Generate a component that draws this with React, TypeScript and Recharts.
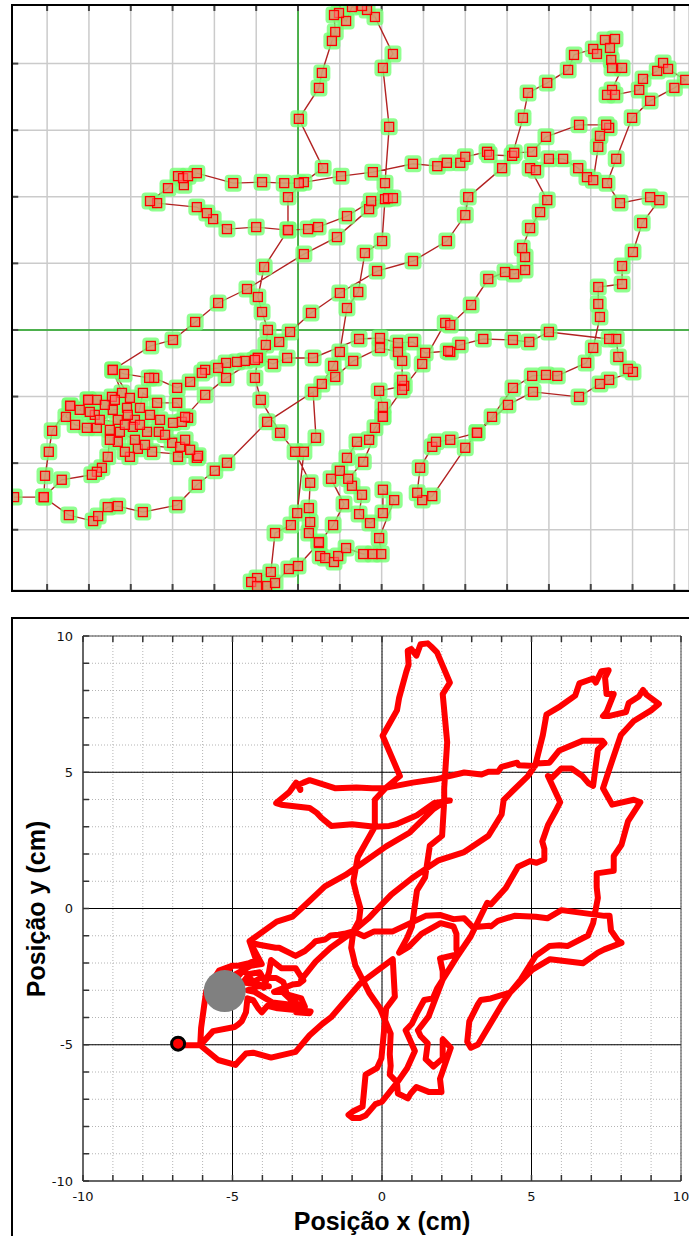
import React from 'react'
import { ComposedChart, Line, Scatter, XAxis, YAxis, CartesianGrid, ReferenceLine } from 'recharts'

type Pt = [number, number]

// trajectory pieces, in cm, in the order they were walked
const startLoop: Pt[] = [
  [-6.79, -5.02], [-6.08, -5.02], [-5.48, -5.56], [-4.9, -5.74], [-4.78, -5.59], [-4.55, -5.32], [-4.31, -5.29],
  [-3.71, -5.47], [-2.89, -5.26], [-2.42, -4.65], [-1.99, -4.23], [-1.7, -3.99], [-0.74, -2.76], [0.36, -1.86],
]
const lowerLeft: Pt[] = [
  [0.43, -3.24], [0.14, -3.66], [-0.02, -5.5], [-0.17, -5.86], [-0.55, -6.1], [-0.65, -7.27], [-0.98, -7.45],
  [-1.12, -7.57], [-0.98, -7.69], [-0.74, -7.69], [-0.55, -7.6], [-0.22, -7.18], [0.0, -7.09], [0.5, -6.4],
  [0.84, -5.86], [1.1, -5.23], [0.79, -4.47], [1.0, -4.23], [1.17, -3.84], [1.41, -3.36], [1.7, -3.3],
  [1.84, -2.94], [2.03, -2.61], [2.03, -2.31], [1.94, -1.83], [2.54, -1.68], [2.49, -1.5], [2.49, -0.93],
  [2.39, -0.66], [1.96, -0.54], [1.32, -0.93], [0.89, -1.41], [0.57, -1.62],
]
const spike: Pt[] = [
  [0.84, -1.08], [1.0, -0.66], [1.17, 0.66], [1.44, 1.14], [1.6, 2.31], [2.01, 2.67], [2.08, 3.93], [2.08, 4.41],
  [2.18, 6.1], [2.03, 7.87], [2.27, 8.29], [1.84, 9.4], [1.65, 9.61], [1.53, 9.73], [1.29, 9.7], [1.15, 9.28],
  [0.98, 9.52], [0.86, 9.46], [0.89, 8.95], [0.81, 8.68], [0.57, 7.72], [0.5, 7.27], [0.02, 6.34], [0.6, 4.86],
  [0.14, 4.44], [-0.24, 3.99], [-0.24, 3.0],
]
const upperLeftLoop: Pt[] = [
  [-1.0, 3.09], [-1.7, 3.03], [-2.03, 3.33], [-2.18, 3.51], [-2.42, 3.69], [-3.37, 3.81], [-3.54, 3.87],
  [-3.11, 4.26], [-2.87, 4.62], [-2.73, 4.35], [-2.75, 4.56], [-2.63, 4.62], [-2.42, 4.71], [-1.55, 4.41],
  [-0.86, 4.44], [-0.33, 4.41], [0.02, 4.41],
]
const upperRun: Pt[] = [
  [1.03, 4.62], [1.79, 4.74], [2.75, 4.99], [3.33, 4.92], [3.56, 5.02], [3.88, 5.02], [4.0, 5.2], [4.52, 5.35],
  [4.57, 5.26], [5.12, 5.23],
]
const northEastLoop: Pt[] = [
  [5.38, 6.37], [5.5, 7.12], [5.96, 7.42], [6.46, 7.81], [6.6, 8.26], [7.06, 8.44], [7.15, 8.29], [7.34, 8.71],
  [7.58, 8.74], [7.46, 8.47], [7.49, 8.11], [7.51, 7.87], [7.75, 7.87], [7.51, 7.21], [7.39, 7.06], [7.58, 7.06],
  [8.16, 7.21], [8.25, 7.54], [8.59, 7.78], [8.73, 8.02], [8.85, 7.84], [9.26, 7.51], [9.0, 7.27], [8.42, 6.88],
  [7.99, 6.37], [7.61, 5.14], [7.39, 4.41],
]
const eastDescent: Pt[] = [
  [7.7, 3.81], [8.42, 3.99], [8.64, 3.9], [8.23, 3.21], [8.01, 2.34], [7.75, 1.92], [7.75, 1.38], [7.18, 1.29],
  [7.18, 0.78], [7.22, 0.39], [7.06, -0.54], [6.89, -0.99], [6.2, -1.38], [5.93, -1.35], [5.6, -1.38],
  [5.14, -1.74], [4.64, -2.61], [4.28, -3.09], [4.0, -3.54], [3.21, -4.99], [2.97, -5.11], [2.85, -4.89],
  [2.92, -4.14], [3.21, -3.51], [3.3, -3.36], [3.64, -3.3], [4.28, -3.09], [5.02, -2.25], [5.62, -1.86],
  [6.72, -2.01], [7.22, -1.62], [7.44, -1.5], [8.01, -1.26], [7.89, -1.17], [7.66, -0.81], [7.61, -0.27],
  [7.44, -0.27], [6.0, -0.06], [5.53, -0.36], [5.14, -0.3], [4.43, -0.27], [3.88, -0.45], [3.64, -0.66],
  [3.59, -0.63], [3.04, -0.69], [2.75, -0.36], [2.39, -0.39], [1.96, -0.24], [1.46, -0.27], [0.36, -0.84],
  [-0.26, -0.84], [-0.6, -1.02], [-0.96, -0.84], [-1.27, -0.93], [-1.46, -0.96], [-1.72, -0.99], [-1.91, -1.14],
  [-2.22, -1.2], [-2.3, -1.29], [-2.58, -1.56], [-2.89, -1.74], [-3.44, -1.44], [-3.56, -1.44], [-4.16, -1.32],
  [-4.43, -1.2],
]
const cluster: Pt[] = [
  [-4.21, -1.89], [-4.45, -2.01], [-4.81, -2.1], [-5.02, -2.1], [-5.45, -2.28], [-5.55, -2.61], [-5.33, -2.85],
  [-5.05, -2.94], [-4.81, -2.94], [-4.43, -2.4], [-4.09, -2.34], [-3.9, -2.7], [-3.95, -2.91], [-3.78, -2.34],
  [-3.71, -1.89], [-3.37, -2.19], [-2.89, -2.19], [-2.63, -2.64], [-2.78, -2.76], [-2.99, -2.79], [-3.61, -3.06],
  [-3.33, -3.06], [-3.01, -3.39], [-2.82, -3.51], [-2.87, -3.81], [-2.42, -3.84], [-2.39, -3.78], [-3.49, -3.66],
  [-3.83, -3.57], [-4.02, -3.81], [-4.14, -3.66], [-4.31, -3.36], [-4.5, -3.3], [-4.55, -3.81], [-4.69, -4.14],
  [-4.81, -4.26], [-4.93, -4.35], [-5.65, -4.5], [-6.08, -5.02], [-6.05, -4.38], [-5.96, -3.66], [-5.88, -3.03],
  [-5.45, -2.28], [-5.02, -2.1],
]
const clusterTangle: Pt[] = [
  [-5.22, -2.4], [-4.86, -2.55], [-4.62, -2.25], [-4.31, -2.7], [-4.07, -2.55], [-3.54, -2.55], [-3.3, -2.7],
  [-3.18, -3.15], [-2.7, -3.3], [-2.58, -3.6], [-3.66, -3.45], [-3.9, -3.3], [-4.26, -3.06], [-4.5, -3.0],
  [-4.14, -2.85], [-3.78, -2.85], [-4.74, -2.7], [-4.98, -2.46], [-4.38, -2.1], [-4.02, -2.04], [-4.43, -1.2],
]
const diagonalRun: Pt[] = [
  [-3.52, -0.48], [-2.99, -0.3], [-2.46, 0.24], [-1.91, 0.81], [-1.22, 1.23], [0.14, 2.28], [0.93, 2.79],
  [1.7, 3.63], [2.15, 3.96], [2.27, 3.96], [1.75, 3.87], [1.17, 3.42], [0.48, 3.09], [0.24, 3.03], [-0.24, 3.0],
]
const spineDown: Pt[] = [
  [-0.81, 1.89], [-0.96, 0.99], [-0.86, 0.54], [-0.72, 0.0], [-0.77, -0.45], [-0.96, -0.84], [-1.03, -1.44],
  [-0.89, -2.1], [-0.43, -3.09], [-0.07, -3.66], [0.29, -4.59], [0.26, -5.35], [0.29, -5.77], [0.26, -6.1],
  [0.5, -6.37], [0.53, -6.79], [0.65, -6.85], [0.86, -6.97], [0.96, -6.79], [1.15, -6.55], [1.56, -6.73],
  [1.79, -6.73], [1.99, -6.73], [1.94, -6.25], [2.3, -5.11], [2.03, -4.8], [2.03, -5.5], [1.72, -5.8],
  [1.46, -5.53], [1.53, -4.95], [1.29, -4.68], [1.2, -4.47], [1.56, -3.96],
]
const finalRun: Pt[] = [
  [2.03, -2.61], [2.49, -1.8], [2.97, -1.02], [3.52, 0.21], [3.64, 0.15], [4.14, 0.75], [4.55, 1.53],
  [4.95, 1.74], [5.17, 1.68], [5.43, 1.8], [5.43, 2.19], [5.36, 2.46], [5.55, 3.06], [5.79, 3.54], [5.96, 3.9],
  [5.55, 4.86], [5.69, 4.8], [6.0, 5.14], [6.34, 5.14], [6.7, 4.86], [6.91, 4.59], [7.06, 4.5], [7.18, 5.5],
  [7.22, 5.83], [7.44, 6.07], [7.37, 6.16], [6.72, 6.16], [5.93, 5.8], [5.6, 5.35], [5.17, 5.32], [4.88, 4.86],
  [4.07, 3.99], [4.0, 3.45], [3.56, 2.67], [2.75, 2.07], [1.89, 1.77], [1.0, 1.11], [0.31, 0.51], [-0.19, -0.06],
  [-0.45, -0.36], [-1.03, -0.9], [-1.72, -1.44], [-2.22, -1.95], [-2.7, -2.61],
]

const trajectory = [
  startLoop, lowerLeft, spike, upperLeftLoop, upperRun, northEastLoop, eastDescent, cluster, clusterTangle,
  diagonalRun, spineDown, finalRun,
].flat().map(([x, y]) => ({ x, y }))

// upper (tracker) panel
const topXDomain: [number, number] = [-6.84, 9.35]
const topYDomain: [number, number] = [-7.81, 9.76]
const topXTicks = [-6, -5, -4, -3, -2, -1, 0, 1, 2, 3, 4, 5, 6, 7, 8, 9]
const topYTicks = [-6, -4, -2, 0, 2, 4, 6, 8]

// lower (cm) panel
const cmTicks = [-10, -9, -8, -7, -6, -5, -4, -3, -2, -1, 0, 1, 2, 3, 4, 5, 6, 7, 8, 9, 10]
const majorLines = [-5, 0, 5]
const startMarker = [{ x: -6.82, y: -4.96 }]
const targetMarker = [{ x: -5.26, y: -3.03 }]

const haloDot = (p: any) => {
  if (p.cx == null || p.cy == null) return <g key={`h${p.index}`} />
  return <rect key={`h${p.index}`} x={p.cx - 8.5} y={p.cy - 8.5} width={17} height={17} rx={4} fill="#74ff74" fillOpacity={0.8} />
}

const squareDot = (p: any) => {
  if (p.cx == null || p.cy == null) return <g key={`s${p.index}`} />
  return (
    <rect key={`s${p.index}`} x={p.cx - 4.5} y={p.cy - 4.5} width={9} height={9}
      fill="#ff6f6f" fillOpacity={0.65} stroke="#ff0000" strokeWidth={1.3} />
  )
}

const cmLabel = (v: number) => (v % 5 === 0 ? String(v) : '')

const tickFont = { fontSize: 13, fill: '#111', fontFamily: 'DejaVu Sans' }
const titleFont: React.CSSProperties = {
  position: 'absolute', fontFamily: 'Liberation Sans', fontWeight: 'bold', fontSize: 25,
  width: 300, height: 30, lineHeight: '30px', textAlign: 'center', color: '#000',
}

function TrackerPanel() {
  const [x0] = topXDomain
  const [y0, y1] = topYDomain
  return (
    <ComposedChart width={689} height={595} data={trajectory} margin={{ top: 5, right: 0, bottom: 5, left: 12 }}>
      <XAxis type="number" dataKey="x" domain={topXDomain} ticks={topXTicks} allowDataOverflow hide />
      <YAxis type="number" dataKey="y" domain={topYDomain} ticks={topYTicks} allowDataOverflow hide />
      <CartesianGrid stroke="#cbcbcb" strokeWidth={1.5} />
      <ReferenceLine x={0} stroke="#1fa31f" strokeWidth={1.5} />
      <ReferenceLine y={0} stroke="#1fa31f" strokeWidth={1.5} />
      {topYTicks.map((v) => (
        <ReferenceLine key={`ly${v}`} segment={[{ x: x0, y: v }, { x: x0 + 0.15, y: v }]} stroke="#444" strokeWidth={2} />
      ))}
      {topXTicks.map((v) => (
        <ReferenceLine key={`tx${v}`} segment={[{ x: v, y: y1 }, { x: v, y: y1 - 0.18 }]} stroke="#444" strokeWidth={2} />
      ))}
      {topXTicks.map((v) => (
        <ReferenceLine key={`bx${v}`} segment={[{ x: v, y: y0 }, { x: v, y: y0 + 0.18 }]} stroke="#444" strokeWidth={2} />
      ))}
      <Line dataKey="y" stroke="none" dot={haloDot} activeDot={false} isAnimationActive={false} />
      <Line dataKey="y" stroke="#b22222" strokeWidth={1.4} dot={squareDot} activeDot={false} isAnimationActive={false} />
    </ComposedChart>
  )
}

function CmPanel() {
  return (
    <ComposedChart width={689} height={636} data={trajectory} margin={{ top: 36, right: 8, bottom: 25, left: 43 }}>
      <XAxis type="number" dataKey="x" domain={[-10, 10]} ticks={cmTicks} interval={0} tickFormatter={cmLabel}
        tickLine={false} axisLine={false} tickSize={0} tickMargin={11} height={30} tick={tickFont} allowDataOverflow />
      <YAxis type="number" dataKey="y" domain={[-10, 10]} ticks={cmTicks} interval={0} tickFormatter={cmLabel}
        tickLine={false} axisLine={false} tickSize={0} tickMargin={10} width={40} tick={tickFont} allowDataOverflow />
      <CartesianGrid stroke="#b4b4b4" strokeDasharray="1 2" />
      {majorLines.map((v) => <ReferenceLine key={`mx${v}`} x={v} stroke="#000" strokeWidth={1} />)}
      {majorLines.map((v) => <ReferenceLine key={`my${v}`} y={v} stroke="#000" strokeWidth={1} />)}
      <ReferenceLine x={-10} stroke="#666" strokeWidth={2} />
      <ReferenceLine y={-10} stroke="#666" strokeWidth={2} />
      <ReferenceLine x={10} stroke="#444" strokeWidth={1} />
      <ReferenceLine y={10} stroke="#444" strokeWidth={1} />
      {cmTicks.map((v) => (
        <ReferenceLine key={`cl${v}`} segment={[{ x: -10, y: v }, { x: -9.8, y: v }]} stroke="#333" strokeWidth={1.5} />
      ))}
      {cmTicks.map((v) => (
        <ReferenceLine key={`cb${v}`} segment={[{ x: v, y: -10 }, { x: v, y: -9.78 }]} stroke="#333" strokeWidth={1.5} />
      ))}
      {cmTicks.map((v) => (
        <ReferenceLine key={`ct${v}`} segment={[{ x: v, y: 10 }, { x: v, y: 9.78 }]} stroke="#333" strokeWidth={1.5} />
      ))}
      <Line dataKey="y" stroke="#ff0000" strokeWidth={6} strokeLinejoin="round" strokeLinecap="round"
        dot={false} activeDot={false} isAnimationActive={false} />
      <Scatter data={targetMarker} dataKey="y" isAnimationActive={false}
        shape={(p: any) => <circle cx={p.cx} cy={p.cy} r={21} fill="#808080" />} />
      <Scatter data={startMarker} dataKey="y" isAnimationActive={false}
        shape={(p: any) => <circle cx={p.cx} cy={p.cy} r={6.5} fill="#ff0000" stroke="#000" strokeWidth={3} />} />
    </ComposedChart>
  )
}

export default function App() {
  return (
    <div style={{ position: 'absolute', left: 0, top: 0, width: 689, height: 1236, overflow: 'hidden', background: '#fff' }}>
      <div style={{ position: 'absolute', left: 0, top: 0 }}>
        <TrackerPanel />
      </div>
      <div style={{ position: 'absolute', left: 11, top: 4, width: 720, height: 588, border: '2px solid #000', boxSizing: 'border-box', pointerEvents: 'none' }} />
      <div style={{ position: 'absolute', left: 0, top: 600 }}>
        <CmPanel />
      </div>
      <div style={{ position: 'absolute', left: 11, top: 617, width: 720, height: 700, borderTop: '2px solid #000', borderLeft: '2px solid #000', pointerEvents: 'none' }} />
      <div style={{ ...titleFont, left: 232, top: 1206 }}>Posição x (cm)</div>
      <div style={{ ...titleFont, left: -114, top: 894, transform: 'rotate(-90deg)' }}>Posição y (cm)</div>
    </div>
  )
}
